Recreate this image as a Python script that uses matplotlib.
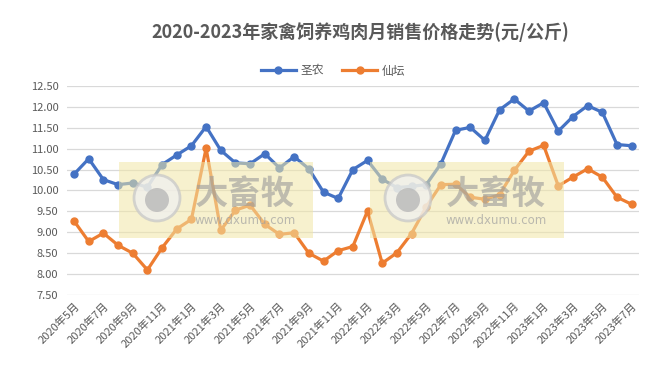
import matplotlib
matplotlib.use('Agg')
import matplotlib.pyplot as plt
from matplotlib.patches import Rectangle, Circle

plt.rcParams['font.family'] = ['Noto Sans CJK SC', 'DejaVu Sans']

# 月份 2020年5月 - 2023年7月
months = []
for y in range(2020, 2024):
    for m in range(1, 13):
        if (y == 2020 and m < 5) or (y == 2023 and m > 7):
            continue
        months.append(f'{y}年{m}月')

shengnong = [10.39, 10.76, 10.26, 10.14, 10.18, 10.08, 10.62, 10.85, 11.07, 11.53,
             10.96, 10.66, 10.64, 10.88, 10.54, 10.81, 10.52, 9.96, 9.81, 10.50,
             10.72, 10.27, 10.07, 10.10, 10.14, 10.64, 11.44, 11.51, 11.20, 11.93,
             12.19, 11.90, 12.10, 11.42, 11.77, 12.03, 11.87, 11.10, 11.07]
xiantan = [9.27, 8.78, 8.98, 8.69, 8.50, 8.10, 8.63, 9.08, 9.31, 11.01,
           9.05, 9.53, 9.65, 9.19, 8.95, 8.99, 8.50, 8.31, 8.56, 8.66,
           9.51, 8.26, 8.51, 8.97, 9.61, 10.14, 10.15, 9.84, 9.79, 9.90,
           10.48, 10.94, 11.08, 10.11, 10.32, 10.52, 10.32, 9.84, 9.67]
yticks = [7.5 + 0.5 * i for i in range(11)]

W, H = 663, 376
fig = plt.figure(figsize=(W / 100, H / 100), dpi=100)
ax = fig.add_axes([66.7 / W, 1 - 295 / H, (639 - 66.7) / W, (295 - 86) / H])

x = list(range(len(months)))
ax.plot(x, shengnong, color='#4472C4', lw=2.3, marker='o', ms=5, label='圣农', zorder=3)
ax.plot(x, xiantan, color='#ED7D31', lw=2.3, marker='o', ms=5, label='仙坛', zorder=3)

ax.set_xlim(-0.5, len(months) - 0.5)
ax.set_ylim(7.5, 12.5)
ax.set_yticks(yticks)
ax.set_yticklabels([f'{v:.2f}' for v in yticks], fontsize=8, color='#595959')
ax.set_xticks(x[::2])
ax.set_xticklabels(months[::2], rotation=45, ha='right', rotation_mode='anchor',
                   fontsize=8, color='#595959')
ax.tick_params(length=0, pad=6)
ax.tick_params(axis='x', pad=4)
ax.grid(axis='y', color='#D9D9D9', lw=0.9)
ax.set_axisbelow(True)
for s in ax.spines.values():
    s.set_visible(False)

fig.text(360 / W, 1 - 32 / H, '2020-2023年家禽饲养鸡肉月销售价格走势(元/公斤)',
         ha='center', va='center', fontsize=13, fontweight='bold', color='#595959')
fig.legend(loc='center', bbox_to_anchor=(333 / W, 1 - 71 / H), ncol=2, frameon=False,
           fontsize=8.5, labelcolor='#595959', handlelength=3, columnspacing=1.5,
           handletextpad=0.4)

# 水印
for x0 in (119, 370):
    fig.patches.append(Rectangle((x0 / W, 1 - 238 / H), 194 / W, 76 / H,
                                 transform=fig.transFigure, facecolor='#F1E6A6',
                                 alpha=0.55, edgecolor='none', zorder=5))
    fig.patches.append(Circle((x0 + 38, H - 198), 23, transform=None,
                              facecolor='#F0F0F0', edgecolor='#C8C8C8', lw=2,
                              alpha=0.75, zorder=6))
    fig.patches.append(Circle((x0 + 38, H - 200), 12, transform=None,
                              facecolor='#B8B8B8', edgecolor='none', alpha=0.8, zorder=7))
    fig.text((x0 + 126) / W, 1 - 194 / H, '大畜牧', ha='center', va='center',
             fontsize=24, fontweight='bold', color='#9A9A9A', alpha=0.6, zorder=7)
    fig.text((x0 + 126) / W, 1 - 221 / H, 'www.dxumu.com', ha='center', va='center',
             fontsize=8.5, color='#A0A0A0', alpha=0.7, zorder=7, family='DejaVu Sans')

fig.savefig('out.png', dpi=100)
